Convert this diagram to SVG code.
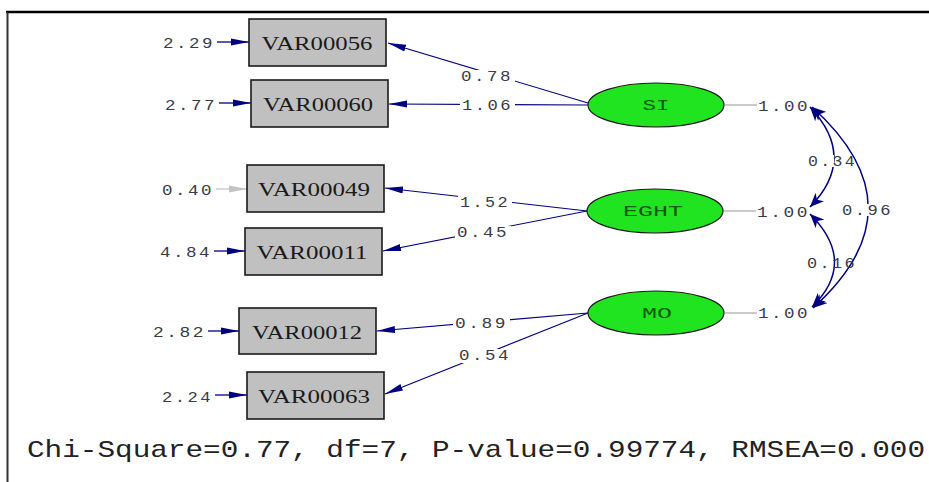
<svg xmlns="http://www.w3.org/2000/svg" width="929" height="482" viewBox="0 0 929 482">
  <style>
    .box { fill: #c0c0c0; stroke: #1a1a1a; stroke-width: 1.6; }
    .lat { fill: #1fe41f; stroke: #1a1a1a; stroke-width: 1.2; }
    .vname { font-family: "Liberation Serif", "DejaVu Serif", serif; font-size: 19px; fill: #1a1a1a; text-anchor: middle; }
    .lname { font-family: "Liberation Mono", "DejaVu Sans Mono", monospace; font-size: 14px; fill: #0a5a0a; text-anchor: middle; }
    .num { font-family: "Liberation Mono", "DejaVu Sans Mono", monospace; font-size: 14px; letter-spacing: 2px; fill: #3a3a48; }
    .err { stroke: #000080; stroke-width: 1.3; fill: none; marker-end: url(#ah); }
    .errg { stroke: #c4c4c4; stroke-width: 1.3; fill: none; marker-end: url(#ahg); }
    .load { stroke: #000080; stroke-width: 1.1; fill: none; marker-end: url(#ah); }
    .cov { stroke: #000080; stroke-width: 1.5; fill: none; marker-start: url(#ch); marker-end: url(#ch); }
    .var { stroke: #a8a8a8; stroke-width: 1.2; fill: none; }
    .bg { fill: #ffffff; }
    .fit { font-family: "Liberation Mono", "DejaVu Sans Mono", monospace; font-size: 24px; fill: #222222; }
  </style>
  <defs>
    <marker id="ah" viewBox="0 0 18 8" refX="18" refY="4" markerWidth="18" markerHeight="8" markerUnits="userSpaceOnUse" orient="auto">
      <path d="M0,0.5 L18,4 L0,7.5 z" fill="#000080"/>
    </marker>
    <marker id="ahg" viewBox="0 0 18 8" refX="18" refY="4" markerWidth="18" markerHeight="8" markerUnits="userSpaceOnUse" orient="auto">
      <path d="M0,0.5 L18,4 L0,7.5 z" fill="#c4c4c4"/>
    </marker>
    <marker id="ch" viewBox="0 0 14 12" refX="14" refY="6" markerWidth="14" markerHeight="12" markerUnits="userSpaceOnUse" orient="auto-start-reverse">
      <path d="M0,0 L14,6 L0,12 L4,6 z" fill="#000080"/>
    </marker>
  </defs>

  <rect width="929" height="482" fill="#ffffff"/>

  <!-- frame -->
  <line x1="6" y1="12" x2="929" y2="12" stroke="#000000" stroke-width="2.5"/>
  <line x1="7.5" y1="12" x2="7.5" y2="482" stroke="#333333" stroke-width="2"/>

  <!-- connectors -->
  <g id="connectors">
    <!-- error variances -->
    <line class="err" x1="217" y1="42" x2="249" y2="42"/>
    <line class="err" x1="219" y1="103" x2="251" y2="103"/>
    <line class="errg" x1="216" y1="189" x2="247" y2="189"/>
    <line class="err" x1="214" y1="251" x2="245" y2="251"/>
    <line class="err" x1="208" y1="331" x2="239" y2="331"/>
    <line class="err" x1="215" y1="395" x2="247" y2="395"/>

    <!-- loadings -->
    <line class="load" x1="588" y1="103" x2="388" y2="43"/>
    <line class="load" x1="588" y1="105" x2="389" y2="104"/>
    <line class="load" x1="587" y1="211" x2="385" y2="188"/>
    <line class="load" x1="587" y1="211" x2="383" y2="251"/>
    <line class="load" x1="588" y1="313" x2="377" y2="331"/>
    <line class="load" x1="588" y1="313" x2="385" y2="394"/>

    <!-- latent variances -->
    <line class="var" x1="725" y1="105" x2="757" y2="105"/>
    <line class="var" x1="724" y1="211" x2="756" y2="211"/>
    <line class="var" x1="725" y1="313" x2="757" y2="313"/>

    <!-- covariances -->
    <path class="cov" d="M810,107 Q858,158 810,207"/>
    <path class="cov" d="M810,214 Q858,262 812,307"/>
    <path class="cov" d="M812,107 Q924,208 813,308"/>

    <!-- labels on paths -->
    <rect class="bg" x="459" y="70" width="56" height="14"/>
    <text class="num" x="461" y="81" textLength="52" lengthAdjust="spacingAndGlyphs">0.78</text>
    <rect class="bg" x="460" y="99" width="55" height="14"/>
    <text class="num" x="462" y="110" textLength="51" lengthAdjust="spacingAndGlyphs">1.06</text>
    <rect class="bg" x="458" y="196" width="54" height="14"/>
    <text class="num" x="460" y="207" textLength="50" lengthAdjust="spacingAndGlyphs">1.52</text>
    <rect class="bg" x="455" y="226" width="56" height="14"/>
    <text class="num" x="457" y="237" textLength="52" lengthAdjust="spacingAndGlyphs">0.45</text>
    <rect class="bg" x="453" y="317" width="57" height="14"/>
    <text class="num" x="455" y="328" textLength="53" lengthAdjust="spacingAndGlyphs">0.89</text>
    <rect class="bg" x="457" y="349" width="56" height="14"/>
    <text class="num" x="459" y="360" textLength="52" lengthAdjust="spacingAndGlyphs">0.54</text>

    <text class="num" x="163" y="48" textLength="52" lengthAdjust="spacingAndGlyphs">2.29</text>
    <text class="num" x="165" y="110" textLength="52" lengthAdjust="spacingAndGlyphs">2.77</text>
    <text class="num" x="162" y="195" textLength="52" lengthAdjust="spacingAndGlyphs">0.40</text>
    <text class="num" x="160" y="257" textLength="52" lengthAdjust="spacingAndGlyphs">4.84</text>
    <text class="num" x="153" y="337" textLength="53" lengthAdjust="spacingAndGlyphs">2.82</text>
    <text class="num" x="162" y="402" textLength="51" lengthAdjust="spacingAndGlyphs">2.24</text>

    <text class="num" x="758" y="111" textLength="52" lengthAdjust="spacingAndGlyphs">1.00</text>
    <text class="num" x="757" y="217" textLength="53" lengthAdjust="spacingAndGlyphs">1.00</text>
    <text class="num" x="758" y="318" textLength="52" lengthAdjust="spacingAndGlyphs">1.00</text>

    <rect class="bg" x="808" y="155" width="26" height="12"/>
    <text class="num" x="808" y="166" textLength="49" lengthAdjust="spacingAndGlyphs">0.34</text>
    <rect class="bg" x="842" y="204" width="50" height="12"/>
    <text class="num" x="842" y="215" textLength="51" lengthAdjust="spacingAndGlyphs">0.96</text>
    <rect class="bg" x="807" y="257" width="26" height="12"/>
    <text class="num" x="807" y="268" textLength="50" lengthAdjust="spacingAndGlyphs">0.16</text>
  </g>

  <!-- observed variables -->
  <g id="VAR00056">
    <rect class="box" x="249" y="19" width="137" height="47"/>
    <text class="vname" x="317" y="50" textLength="111" lengthAdjust="spacingAndGlyphs">VAR00056</text>
  </g>
  <g id="VAR00060">
    <rect class="box" x="251" y="80" width="137" height="47"/>
    <text class="vname" x="318" y="111" textLength="110" lengthAdjust="spacingAndGlyphs">VAR00060</text>
  </g>
  <g id="VAR00049">
    <rect class="box" x="247" y="165" width="137" height="47"/>
    <text class="vname" x="314" y="196" textLength="112" lengthAdjust="spacingAndGlyphs">VAR00049</text>
  </g>
  <g id="VAR00011">
    <rect class="box" x="245" y="228" width="137" height="47"/>
    <text class="vname" x="312" y="259" textLength="111" lengthAdjust="spacingAndGlyphs">VAR00011</text>
  </g>
  <g id="VAR00012">
    <rect class="box" x="239" y="308" width="137" height="46"/>
    <text class="vname" x="307" y="339" textLength="110" lengthAdjust="spacingAndGlyphs">VAR00012</text>
  </g>
  <g id="VAR00063">
    <rect class="box" x="247" y="372" width="137" height="47"/>
    <text class="vname" x="314" y="403" textLength="112" lengthAdjust="spacingAndGlyphs">VAR00063</text>
  </g>

  <!-- latent variables -->
  <g id="SI">
    <ellipse class="lat" cx="656" cy="105" rx="68" ry="22"/>
    <text class="lname" x="656" y="110" textLength="27" lengthAdjust="spacingAndGlyphs">SI</text>
  </g>
  <g id="EGHT">
    <ellipse class="lat" cx="655" cy="211" rx="68" ry="22"/>
    <text class="lname" x="653" y="216" textLength="60" lengthAdjust="spacingAndGlyphs">EGHT</text>
  </g>
  <g id="MO">
    <ellipse class="lat" cx="656" cy="313" rx="68" ry="22"/>
    <text class="lname" x="657" y="318" textLength="30" lengthAdjust="spacingAndGlyphs">MO</text>
  </g>

  <!-- fit statistics -->
  <text class="fit" x="27" y="457" textLength="898" lengthAdjust="spacingAndGlyphs">Chi-Square=0.77, df=7, P-value=0.99774, RMSEA=0.000</text>
</svg>
